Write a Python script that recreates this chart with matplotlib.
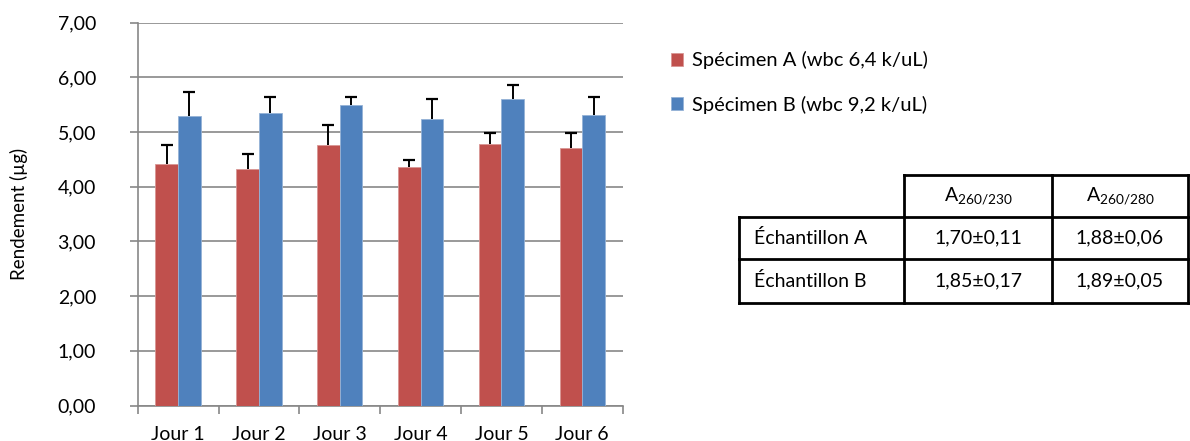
import numpy as np
import matplotlib
matplotlib.use('Agg')
import matplotlib.pyplot as plt
from matplotlib.lines import Line2D

plt.rcParams['font.family'] = ['Lato', 'DejaVu Sans']
plt.rcParams['mathtext.fontset'] = 'custom'
plt.rcParams['mathtext.rm'] = 'Lato'

jours = ['Jour 1', 'Jour 2', 'Jour 3', 'Jour 4', 'Jour 5', 'Jour 6']
spec_a = [4.41, 4.32, 4.76, 4.35, 4.78, 4.70]
spec_b = [5.29, 5.34, 5.49, 5.24, 5.60, 5.31]
err_a = [0.35, 0.27, 0.37, 0.14, 0.20, 0.28]
err_b = [0.44, 0.29, 0.15, 0.36, 0.25, 0.33]
label_a = 'Spécimen A (wbc 6,4 k/uL)'
label_b = 'Spécimen B (wbc 9,2 k/uL)'

tab_cols = ['A$_\\mathrm{260/230}$', 'A$_\\mathrm{260/280}$']
tab_rows = ['Échantillon A', 'Échantillon B']
tab_vals = [['1,70±0,11', '1,88±0,06'],
            ['1,85±0,17', '1,89±0,05']]

red = '#c0504d'
blue = '#4f81bd'
grid = '#878787'

fig = plt.figure(figsize=(11.9, 4.41), dpi=100)
W, H = 1190, 441
ax = fig.add_axes([137.7 / W, 1 - 405.5 / H, 485 / W, 383 / H])

x = np.arange(len(jours))
w = 0.28
ax.bar(x - w / 2, spec_a, w, color=red, edgecolor='#d99694', linewidth=0.6, label=label_a, zorder=3)
ax.bar(x + w / 2, spec_b, w, color=blue, edgecolor='#95b3d7', linewidth=0.6, label=label_b, zorder=3)

# barres d'erreur vers le haut seulement
for xs, ys, es in [(x - w / 2, spec_a, err_a), (x + w / 2, spec_b, err_b)]:
    top = np.array(ys) + np.array(es)
    ax.vlines(xs, ys, top, color='black', linewidth=1.4, zorder=4)
    ax.plot(xs, top, linestyle='none', marker='_', markersize=8, markeredgewidth=1.6, color='black', zorder=4)

ax.set_xlim(-0.5, len(jours) - 0.5)
ax.set_ylim(0, 7)
ax.set_yticks(np.arange(0, 8))
ax.yaxis.set_major_formatter(plt.FuncFormatter(lambda v, p: ('%.2f' % v).replace('.', ',')))
ax.set_xticks(x)
ax.set_xticklabels(jours)
ax.set_xticks(np.arange(-0.5, len(jours)), minor=True)
ax.tick_params(axis='x', which='major', length=0, pad=15, labelsize=14)
ax.tick_params(axis='x', which='minor', length=6, width=1.2, color=grid, direction='out')
ax.tick_params(axis='y', length=6, width=1.2, color=grid, labelsize=14, pad=24)
ax.grid(axis='y', color=grid, linewidth=1.2, zorder=0)
ax.set_axisbelow(True)
for s in ['top', 'right']:
    ax.spines[s].set_visible(False)
for s in ['left', 'bottom']:
    ax.spines[s].set_color(grid)
    ax.spines[s].set_linewidth(1.2)
ax.set_ylabel('Rendement (µg)', fontsize=13.5, labelpad=21)

ax.legend(loc='upper left', bbox_to_anchor=(1.063, 0.972), frameon=False, fontsize=14.5,
          handlelength=0.6, handleheight=0.6, handletextpad=0.4, labelspacing=1.3)

# tableau
tx = [739 / W, 904 / W, 1052 / W, 1188 / W]
ty = [1 - 175 / H, 1 - 217.3 / H, 1 - 258.7 / H, 1 - 302.7 / H]
lk = dict(color='black', linewidth=2)
fig.add_artist(Line2D([tx[1], tx[3]], [ty[0], ty[0]], **lk))
for yy in ty[1:]:
    fig.add_artist(Line2D([tx[0], tx[3]], [yy, yy], **lk))
fig.add_artist(Line2D([tx[0], tx[0]], [ty[1], ty[3]], **lk))
for xx in tx[1:]:
    fig.add_artist(Line2D([xx, xx], [ty[0], ty[3]], **lk))
for j, c in enumerate(tab_cols):
    fig.text((tx[j + 1] + tx[j + 2]) / 2, (ty[0] + ty[1]) / 2, c, ha='center', va='center', fontsize=14)
for i, r in enumerate(tab_rows):
    yc = (ty[i + 1] + ty[i + 2]) / 2
    fig.text(tx[0] + 15 / W, yc, r, ha='left', va='center', fontsize=14)
    for j, v in enumerate(tab_vals[i]):
        fig.text((tx[j + 1] + tx[j + 2]) / 2, yc, v, ha='center', va='center', fontsize=14)

fig.savefig('out.png', dpi=100)
